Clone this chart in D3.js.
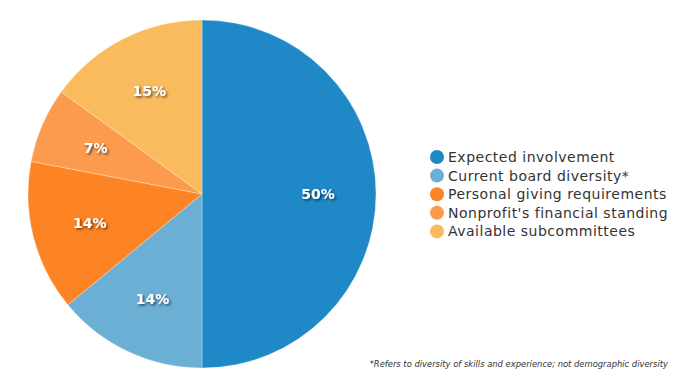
<!DOCTYPE html>
<html>
<head>
<meta charset="utf-8">
<script src="https://cdn.jsdelivr.net/npm/d3@7"></script>
<style>
  body { margin: 0; background: #fff; }
  svg { display: block; font-family: "DejaVu Sans", Verdana, sans-serif; }
</style>
</head>
<body>
<svg id="chart" width="675" height="388"></svg>
<script>
var width = 675, height = 388

// data
var categories = ["Expected involvement", "Current board diversity*", "Personal giving requirements", "Nonprofit's financial standing", "Available subcommittees"]
var shares = [50, 14, 14, 7, 15]
var colors = ["#1f88c7", "#6bafd4", "#fd8424", "#fc9b4d", "#f9bb5d"]
var footnote = "*Refers to diversity of skills and experience; not demographic diversity"

var slices = categories.map(function(c, i) {
    return { name: c, value: shares[i], color: colors[i] }
})

var svg = d3.select("#chart")

var defs = svg.append("defs")
var shadow = defs.append("filter").attr("id", "shadow")
    .attr("x", "-20%").attr("y", "-30%").attr("width", "150%").attr("height", "170%")
shadow.append("feDropShadow")
    .attr("dx", 1.5).attr("dy", 1.5).attr("stdDeviation", 1)
    .attr("flood-color", "#000").attr("flood-opacity", 0.6)

var cx = 202, cy = 194, r = 174

var pie = d3.pie().sort(null).value(function(d) { return d.value })
var arc = d3.arc().innerRadius(0).outerRadius(r)
var labelArc = d3.arc().innerRadius(116).outerRadius(116)

var g = svg.append("g").attr("transform", "translate(" + cx + "," + cy + ")")

var arcs = pie(slices)

g.selectAll("path")
    .data(arcs)
    .join("path")
    .attr("d", arc)
    .attr("fill", function(d) { return d.data.color })
    .attr("stroke", "#ffffff")
    .attr("stroke-width", 0.5)
    .attr("stroke-opacity", 0.6)

g.selectAll("text.val")
    .data(arcs)
    .join("text")
    .attr("class", "val")
    .attr("transform", function(d) { return "translate(" + labelArc.centroid(d) + ")" })
    .attr("text-anchor", "middle")
    .attr("dy", "0.36em")
    .attr("fill", "#fff")
    .attr("font-size", 14)
    .attr("font-weight", "bold")
    .attr("filter", "url(#shadow)")
    .text(function(d) { return d.data.value + "%" })

// legend
var legend = svg.append("g").attr("transform", "translate(437,157)")
var row = legend.selectAll("g")
    .data(slices)
    .join("g")
    .attr("transform", function(d, i) { return "translate(0," + (i * 18.6) + ")" })

row.append("circle")
    .attr("r", 7)
    .attr("fill", function(d) { return d.color })

row.append("text")
    .attr("x", 11)
    .attr("dy", "0.36em")
    .attr("font-size", 14)
    .attr("letter-spacing", 0.5)
    .attr("fill", "#333")
    .text(function(d) { return d.name })

svg.append("text")
    .attr("x", 668)
    .attr("y", 367)
    .attr("text-anchor", "end")
    .attr("font-size", 8.4)
    .attr("font-style", "italic")
    .attr("fill", "#333")
    .text(footnote)
</script>
</body>
</html>
